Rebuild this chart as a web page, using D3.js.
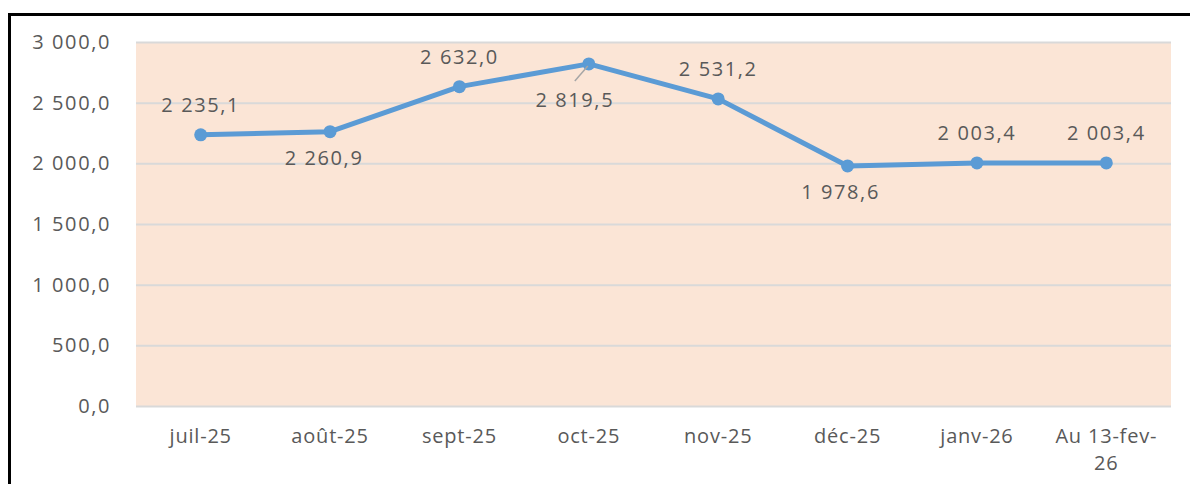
<!DOCTYPE html>
<html>
<head>
<meta charset="utf-8">
<script src="https://cdn.jsdelivr.net/npm/d3@7"></script>
<style>
  body { margin: 0; background: #fff; }
  svg text { font-family: "Open Sans", sans-serif; fill: #595959; }
</style>
</head>
<body>
<script>
// données
let categories = ["juil-25", "août-25", "sept-25", "oct-25", "nov-25", "déc-25", "janv-26", "Au 13-fev-26"]
let values = [2235.1, 2260.9, 2632.0, 2819.5, 2531.2, 1978.6, 2003.4, 2003.4]
let yTicks = [0, 500, 1000, 1500, 2000, 2500, 3000]
let labelSide = ["up", "down", "up", "down", "up", "down", "up", "up"]

let width = 1190
let height = 484
let plot = {left: 136, right: 1171, top: 42, bottom: 406}

let svg = d3.select("body")
    .append("svg")
    .attr("width", width)
    .attr("height", height)

let fr = d3.formatLocale({decimal: ",", thousands: " ", grouping: [3]})
let fmt = fr.format(",.1f")

let xScale = d3.scaleBand()
    .domain(categories)
    .range([plot.left, plot.right])

let yScale = d3.scaleLinear()
    .domain([0, 3000])
    .range([plot.bottom, plot.top])

// cadre noir
svg.append("rect")
    .attr("x", 9.5).attr("y", 14.5)
    .attr("width", 1300).attr("height", 600)
    .attr("fill", "none")
    .attr("stroke", "#000")
    .attr("stroke-width", 3)

// fond de la zone de tracé
svg.append("rect")
    .attr("x", plot.left).attr("y", plot.top)
    .attr("width", plot.right - plot.left)
    .attr("height", plot.bottom - plot.top)
    .attr("fill", "#FBE5D6")

// axe y + quadrillage
let yAxis = d3.axisLeft(yScale)
    .tickValues(yTicks)
    .tickFormat(fmt)
    .tickSize(-(plot.right - plot.left))
    .tickPadding(25)

let gy = svg.append("g")
    .attr("transform", "translate(" + plot.left + ",0)")
    .call(yAxis)
gy.select(".domain").remove()
gy.selectAll("line").attr("stroke", "#D9D9D9").attr("stroke-width", 2)
gy.selectAll("text")
    .attr("font-size", 20)
    .attr("letter-spacing", 1.6)
    .attr("fill", "#595959")
    .attr("font-family", "Open Sans, sans-serif")

// axe x
let xAxis = d3.axisBottom(xScale).tickSize(0).tickPadding(0)
let gx = svg.append("g")
    .attr("transform", "translate(0," + plot.bottom + ")")
    .call(xAxis)
gx.select(".domain").remove()
gx.selectAll("text").each(function(d) {
    let t = d3.select(this)
    t.text(null)
        .attr("font-size", 20)
        .attr("letter-spacing", 0.8)
        .attr("fill", "#595959")
        .attr("font-family", "Open Sans, sans-serif")
        .attr("dy", null)
        .attr("y", 37)
    let lines = d === "Au 13-fev-26" ? ["Au 13-fev-", "26"] : [d]
    lines.forEach(function(l, i) {
        t.append("tspan").attr("x", 0).attr("dy", i === 0 ? 0 : 27).text(l)
    })
})

// ligne
let line = d3.line()
    .x(function(d, i) { return xScale(categories[i]) + xScale.bandwidth() / 2 })
    .y(function(d) { return yScale(d) })

svg.append("path")
    .datum(values)
    .attr("d", line)
    .attr("fill", "none")
    .attr("stroke", "#5B9BD5")
    .attr("stroke-width", 5)
    .attr("stroke-linejoin", "round")

svg.selectAll(".pt")
    .data(values)
    .enter()
    .append("circle")
    .attr("class", "pt")
    .attr("cx", function(d, i) { return xScale(categories[i]) + xScale.bandwidth() / 2 })
    .attr("cy", function(d) { return yScale(d) })
    .attr("r", 6.5)
    .attr("fill", "#5B9BD5")

// trait de rappel pour oct-25
let oi = 3
let ox = xScale(categories[oi]) + xScale.bandwidth() / 2
svg.append("line")
    .attr("x1", ox - 14).attr("y1", yScale(values[oi]) + 17)
    .attr("x2", ox - 1).attr("y2", yScale(values[oi]) + 2)
    .attr("stroke", "#A6A6A6")
    .attr("stroke-width", 1.5)

// étiquettes de données
svg.selectAll(".lbl")
    .data(values)
    .enter()
    .append("text")
    .attr("class", "lbl")
    .attr("x", function(d, i) {
        let cx = xScale(categories[i]) + xScale.bandwidth() / 2
        if (i === 1) return cx - 6
        if (i === 3) return cx - 14
        if (i === 5) return cx - 7
        return cx
    })
    .attr("y", function(d, i) {
        return yScale(d) + (labelSide[i] === "up" ? -30 : (i === 3 ? 36 : 26))
    })
    .attr("dy", "0.35em")
    .attr("text-anchor", "middle")
    .attr("font-size", 20)
    .attr("letter-spacing", 1.6)
    .text(function(d) { return fmt(d) })
</script>
</body>
</html>
